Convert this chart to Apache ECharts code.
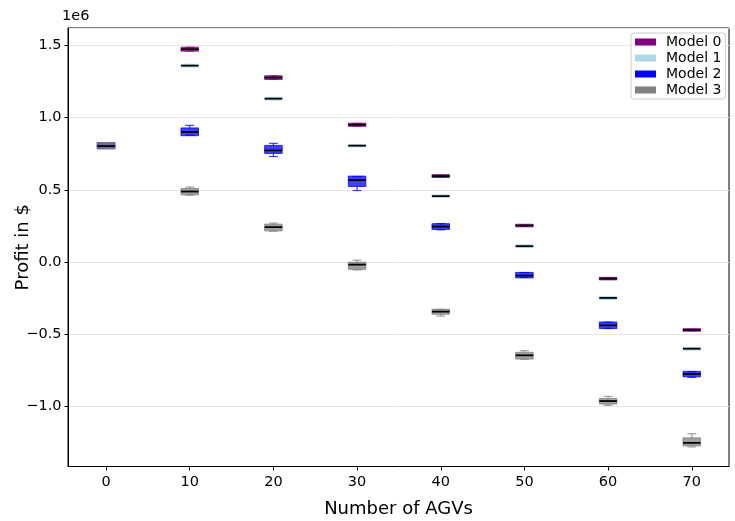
<!DOCTYPE html>
<html>
<head>
<meta charset="utf-8">
<script src="https://cdn.jsdelivr.net/npm/echarts@6/dist/echarts.min.js"></script>
<style>html,body{margin:0;padding:0;background:#fff}#c{width:735px;height:521px}</style>
</head>
<body>
<div id="c"></div>
<script>
// Number of AGVs (x positions)
const agvs = [0, 10, 20, 30, 40, 50, 60, 70];
// Each entry: [min, q1, median, q3, max] in $
const model0 = [
  [788000, 792000, 803000, 820000, 826000],
  [1462000, 1468000, 1475000, 1482000, 1488000],
  [1265000, 1272000, 1278000, 1284000, 1290000],
  [942000, 947000, 951000, 955000, 960000],
  [588000, 592000, 595000, 598000, 602000],
  [247000, 250000, 252000, 254000, 257000],
  [-121000, -118000, -116000, -114000, -111000],
  [-477000, -474000, -472000, -470000, -467000]
];
const model1 = [
  [788000, 792000, 803000, 820000, 826000],
  [1355000, 1358000, 1361000, 1364000, 1367000],
  [1125000, 1129000, 1132000, 1135000, 1139000],
  [801000, 804000, 806000, 808000, 811000],
  [451000, 454000, 456000, 458000, 461000],
  [103000, 106000, 109000, 112000, 115000],
  [-256000, -253000, -250000, -247000, -244000],
  [-608000, -605000, -602000, -599000, -596000]
];
const model2 = [
  [788000, 792000, 803000, 820000, 826000],
  [878000, 882000, 901000, 922000, 947000],
  [731000, 759000, 773000, 801000, 822000],
  [495000, 530000, 567000, 588000, 592000],
  [222000, 232000, 245000, 258000, 266000],
  [-108000, -104000, -95000, -80000, -74000],
  [-462000, -455000, -440000, -424000, -418000],
  [-801000, -790000, -778000, -766000, -762000]
];
const model3 = [
  [788000, 792000, 803000, 820000, 826000],
  [462000, 472000, 488000, 502000, 519000],
  [213000, 222000, 241000, 255000, 269000],
  [-56000, -45000, -19000, -9000, 12000],
  [-375000, -356000, -345000, -335000, -330000],
  [-676000, -667000, -648000, -634000, -616000],
  [-995000, -979000, -965000, -954000, -933000],
  [-1283000, -1269000, -1255000, -1227000, -1192000]
];
const modelNames = ['Model 0', 'Model 1', 'Model 2', 'Model 3'];
const modelColors = ['#800080', '#add8e6', '#0000ff', '#808080'];
const yTickLabelsFmt = v => (v / 1e6).toFixed(1).replace('-', '\u2212');

const allModels = [model0, model1, model2, model3];
const FONT = 'DejaVu Sans';

function renderBox(color) {
  return function (params, api) {
    const x = api.value(0);
    const pMin = api.coord([x, api.value(1)]);
    const pQ1 = api.coord([x, api.value(2)]);
    const pMed = api.coord([x, api.value(3)]);
    const pQ3 = api.coord([x, api.value(4)]);
    const pMax = api.coord([x, api.value(5)]);
    const w = api.size([2.1, 0])[0];
    const cx = pMed[0];
    const cap = w * 0.5;
    const ws = { stroke: color, lineWidth: 1.2, opacity: 0.75 };
    return {
      type: 'group',
      children: [
        { type: 'line', shape: { x1: cx, y1: pQ3[1], x2: cx, y2: pMax[1] }, style: ws },
        { type: 'line', shape: { x1: cx, y1: pQ1[1], x2: cx, y2: pMin[1] }, style: ws },
        { type: 'line', shape: { x1: cx - cap / 2, y1: pMax[1], x2: cx + cap / 2, y2: pMax[1] }, style: ws },
        { type: 'line', shape: { x1: cx - cap / 2, y1: pMin[1], x2: cx + cap / 2, y2: pMin[1] }, style: ws },
        { type: 'rect', shape: { x: cx - w / 2, y: pQ3[1] - 1, width: w, height: Math.max(pQ1[1] - pQ3[1], 0) + 2 },
          style: { fill: color, stroke: color, lineWidth: 1, opacity: 0.75 } },
        { type: 'line', shape: { x1: cx - w / 2, y1: pMed[1], x2: cx + w / 2, y2: pMed[1] },
          style: { stroke: '#000', lineWidth: 1.8 } }
      ]
    };
  };
}

const series = allModels.map((m, k) => ({
  name: modelNames[k],
  type: 'custom',
  itemStyle: { color: modelColors[k] },
  renderItem: renderBox(modelColors[k]),
  encode: { x: 0, y: [1, 2, 3, 4, 5] },
  data: agvs.map((a, i) => [a].concat(m[i])),
  z: 2 + k
}));

const chart = echarts.init(document.getElementById('c'), null, { renderer: 'canvas' });
chart.setOption({
  animation: false,
  backgroundColor: '#fff',
  textStyle: { fontFamily: FONT },
  grid: { left: 68, right: 6, top: 28, bottom: 54.5, show: true, borderColor: '#000', borderWidth: 1,
          containLabel: false, outerBoundsMode: 'none' },
  xAxis: {
    type: 'value', min: -4.55, max: 74.45, splitNumber: 8,
    name: 'Number of AGVs', nameLocation: 'middle', nameGap: 34, nameMoveOverlap: false,
    nameTextStyle: { fontFamily: FONT, fontSize: 18, color: '#000' },
    axisLine: { show: true, onZero: false, lineStyle: { color: '#000' } },
    axisTick: { show: true, length: 4, lineStyle: { color: '#000' } },
    axisLabel: { fontFamily: FONT, fontSize: 14.5, color: '#000', margin: 8, showMinLabel: false, showMaxLabel: false },
    splitLine: { show: false }
  },
  yAxis: {
    type: 'value', min: -1419000, max: 1622000, splitNumber: 6,
    name: 'Profit in $', nameLocation: 'middle', nameGap: 36, nameRotate: 90, nameMoveOverlap: false,
    nameTextStyle: { fontFamily: FONT, fontSize: 18, color: '#000' },
    axisLine: { show: true, onZero: false, lineStyle: { color: '#000' } },
    axisTick: { show: true, length: 3.5, lineStyle: { color: '#000' } },
    axisLabel: { fontFamily: FONT, fontSize: 14.5, color: '#000', margin: 6.5, showMinLabel: false, showMaxLabel: false, formatter: yTickLabelsFmt },
    splitLine: { show: true, lineStyle: { color: '#e6e6e6', width: 1 } }
  },
  legend: {
    orient: 'vertical', left: 631, top: 33,
    data: modelNames, icon: 'rect', itemWidth: 21, itemHeight: 7, itemGap: 2,
    padding: [2, 4, 2, 4],
    backgroundColor: 'rgba(255,255,255,0.8)', borderColor: '#cccccc', borderWidth: 1, borderRadius: 3,
    textStyle: { fontFamily: FONT, fontSize: 14, color: '#000', padding: [0, 0, 0, 5] }
  },
  graphic: [
    { type: 'text', left: 62, top: 9, style: { text: '1e6', font: '14.5px "DejaVu Sans"', fill: '#000' } }
  ],
  series: series
});
</script>
</body>
</html>
